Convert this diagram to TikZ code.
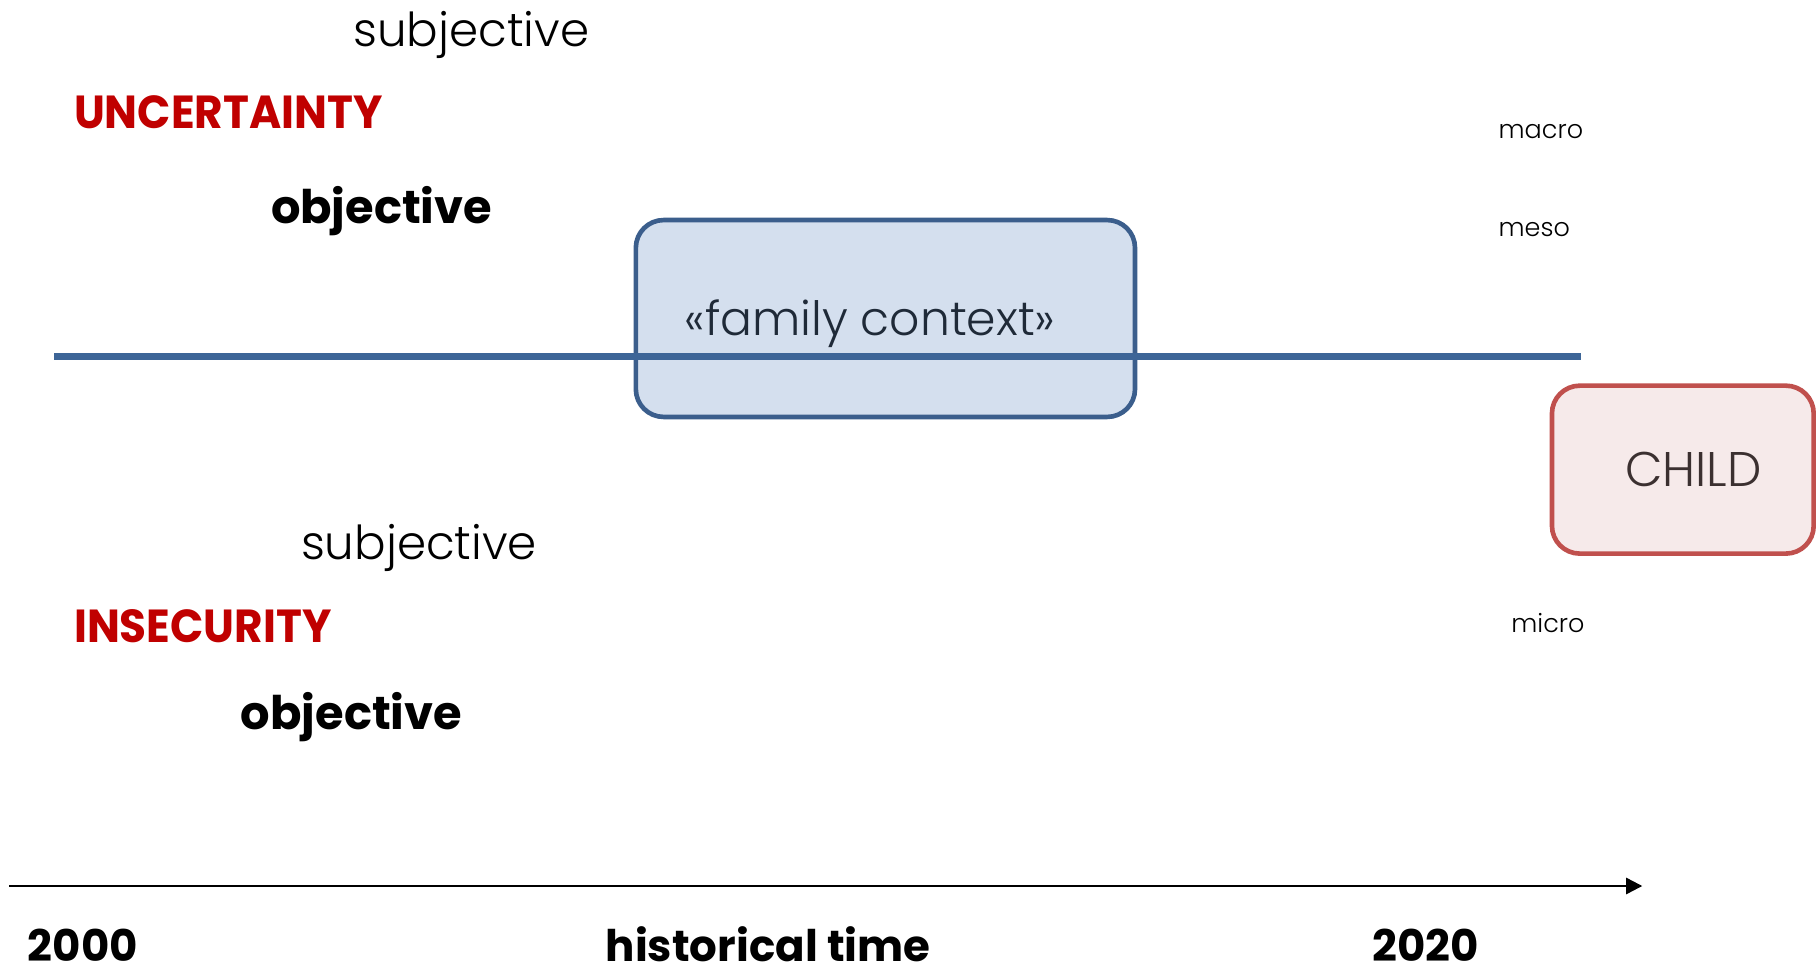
\documentclass[tikz,border=0pt]{standalone}
\usepackage{fontspec}
\setmainfont{Poppins}
\newfontfamily\lightfont{Poppins Light}
\usetikzlibrary{arrows.meta}
\definecolor{lineblue}{HTML}{3D6597}
\definecolor{boxblue}{HTML}{D4DFEE}
\definecolor{boxbluedraw}{HTML}{3B5E8C}
\definecolor{redtitle}{HTML}{C00000}
\definecolor{childdraw}{HTML}{C0504D}
\definecolor{childfill}{HTML}{F6EAEA}
\definecolor{darktext}{HTML}{1F2A38}
\definecolor{childtext}{HTML}{3B3030}
\begin{document}
\begin{tikzpicture}[x=0.5pt,y=-0.5pt,
  lbl/.style={anchor=base west,inner sep=0pt,outer sep=0pt},
  lightlbl/.style={lbl,font=\lightfont\fontsize{20.2}{24}\selectfont},
  boldlbl/.style={lbl,font=\bfseries\fontsize{20}{24}\selectfont},
  redlbl/.style={lbl,text=redtitle,font=\bfseries\fontsize{20}{24}\selectfont},
  levellbl/.style={lbl,font=\lightfont\fontsize{11}{13}\selectfont},
  timelbl/.style={lbl,font=\bfseries\fontsize{18.8}{22}\selectfont}]
\useasboundingbox (0,0) rectangle (1568,840);

% family context box
\node[draw=boxbluedraw,fill=boxblue,line width=2pt,rounded corners=12pt,
  minimum width=215.5pt,minimum height=85pt,inner sep=0pt] (family) at (764.5,275) {};
\node[lbl,text=darktext,font=\lightfont\fontsize{20.4}{25}\selectfont] (famtext) at (591,290) {«family context»};

% blue level line
\coordinate (lineL) at (47,308);
\coordinate (lineR) at (1365,308);
\draw[lineblue,line width=3.2pt] (lineL) -- (lineR);

% child box
\node[draw=childdraw,fill=childfill,line width=2pt,rounded corners=12pt,
  minimum width=113pt,minimum height=72.5pt,inner sep=0pt,text=childtext,
  font=\lightfont\fontsize{21}{25}\selectfont] (child) at (1453,405.5) {\hspace{9pt}CHILD};

% uncertainty
\node[lightlbl] (subj1) at (305,40) {subjective};
\node[redlbl] (unc) at (64,111) {\scalebox{0.945}[1]{UNCERTAINTY}};
\node[boldlbl] (obj1) at (234,193) {objective};

% insecurity
\node[lightlbl] (subj2) at (260,483) {subjective};
\node[redlbl] (ins) at (64,555) {\scalebox{0.945}[1]{INSECURITY}};
\node[boldlbl] (obj2) at (208,630) {objective};

% levels
\node[levellbl] (macro) at (1294,120) {macro};
\node[levellbl] (meso) at (1294,204) {meso};
\node[levellbl] (micro) at (1305,546) {micro};

% time axis
\coordinate (axL) at (8,765);
\coordinate (axR) at (1418,765);
\draw[line width=1pt,-{Triangle[length=7pt,width=7pt]}] (axL) -- (axR);
\node[timelbl] (y2000) at (24,830) {2000};
\node[timelbl] (hist) at (523,830) {historical time};
\node[timelbl] (y2020) at (1185,830) {2020};
\end{tikzpicture}
\end{document}
